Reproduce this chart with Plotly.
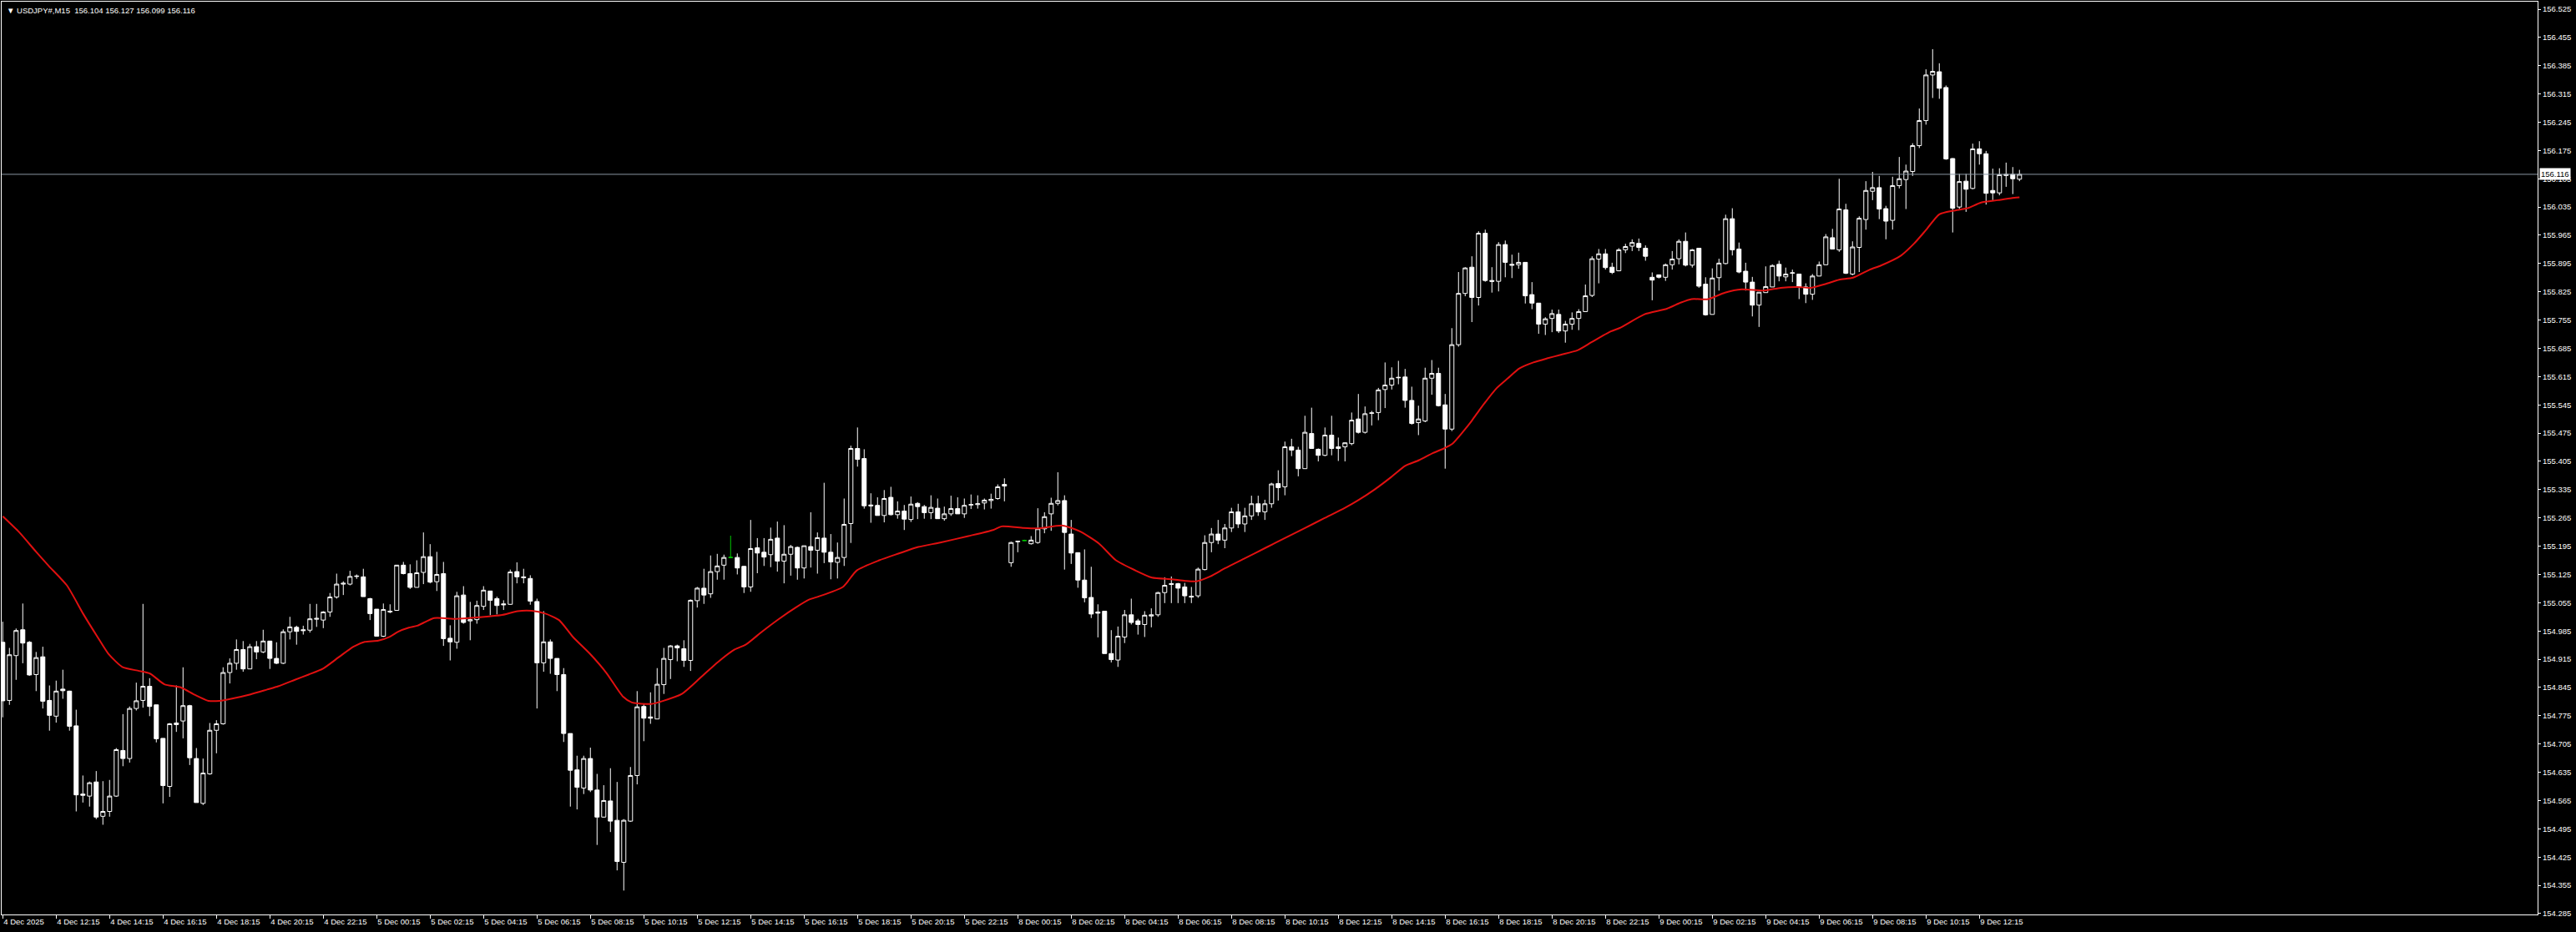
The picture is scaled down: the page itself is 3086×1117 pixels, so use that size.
import plotly.graph_objects as go

symbol_title = "USDJPY#,M15"

bar_open = [
    154.957, 154.813, 154.924, 154.988, 154.957, 154.877, 154.921, 154.813, 154.774, 154.841,
    154.836, 154.750, 154.581, 154.576, 154.611, 154.526, 154.538, 154.576, 154.689, 154.669,
    154.793, 154.813, 154.848, 154.802, 154.719, 154.600, 154.753, 154.762, 154.800, 154.669,
    154.558, 154.631, 154.739, 154.755, 154.882, 154.905, 154.939, 154.891, 154.946, 154.933,
    154.960, 154.917, 154.905, 154.983, 154.994, 154.988, 154.987, 155.014, 155.012, 155.032,
    155.069, 155.101, 155.101, 155.120, 155.119, 155.065, 155.039, 154.972, 155.032, 155.036,
    155.148, 155.127, 155.093, 155.130, 155.169, 155.107, 155.127, 154.967, 154.957, 155.074,
    155.010, 155.013, 155.046, 155.084, 155.065, 155.052, 155.051, 155.132, 155.119, 155.115,
    155.058, 154.906, 154.958, 154.917, 154.877, 154.731, 154.641, 154.596, 154.669, 154.591,
    154.524, 154.564, 154.516, 154.412, 154.514, 154.627, 154.798, 154.772, 154.767, 154.852,
    154.914, 154.948, 154.941, 154.912, 155.060, 155.091, 155.077, 155.132, 155.148, 155.167,
    155.167, 155.145, 155.094, 155.191, 155.180, 155.174, 155.215, 155.158, 155.175, 155.192,
    155.141, 155.194, 155.185, 155.215, 155.180, 155.155, 155.167, 155.251, 155.437, 155.412,
    155.297, 155.296, 155.271, 155.316, 155.273, 155.282, 155.261, 155.301, 155.293, 155.278,
    155.289, 155.263, 155.275, 155.288, 155.275, 155.297, 155.298, 155.302, 155.308, 155.313,
    155.344, 155.154, 155.206, 155.209, 155.201, 155.204, 155.238, 155.275, 155.301, 155.308,
    155.225, 155.179, 155.111, 155.068, 155.032, 155.034, 154.929, 154.913, 154.970, 155.025,
    155.010, 155.001, 155.022, 155.025, 155.080, 155.100, 155.102, 155.094, 155.071, 155.072,
    155.137, 155.204, 155.225, 155.210, 155.240, 155.280, 155.250, 155.270, 155.300, 155.280,
    155.300, 155.350, 155.342, 155.441, 155.433, 155.387, 155.474, 155.435, 155.420, 155.470,
    155.437, 155.441, 155.449, 155.510, 155.477, 155.524, 155.526, 155.583, 155.594, 155.612,
    155.614, 155.556, 155.501, 155.505, 155.611, 155.623, 155.545, 155.485, 155.694, 155.821,
    155.886, 155.811, 155.970, 155.853, 155.851, 155.942, 155.893, 155.892, 155.898, 155.818,
    155.797, 155.745, 155.759, 155.769, 155.728, 155.745, 155.759, 155.776, 155.816, 155.906,
    155.919, 155.886, 155.877, 155.929, 155.938, 155.945, 155.933, 155.861, 155.867, 155.861,
    155.892, 155.907, 155.950, 155.891, 155.933, 155.844, 155.769, 155.860, 155.895, 156.006,
    155.931, 155.876, 155.849, 155.792, 155.823, 155.837, 155.893, 155.862, 155.871, 155.869,
    155.837, 155.819, 155.864, 155.892, 155.959, 155.929, 156.028, 155.869, 155.935, 156.004,
    156.074, 156.083, 156.031, 156.002, 156.088, 156.103, 156.123, 156.187, 156.249, 156.362,
    156.370, 156.331, 156.155, 156.035, 156.099, 156.081, 156.179, 156.167, 156.076, 156.070,
    156.113, 156.116, 156.104,
]

bar_high = [
    155.008, 154.943, 154.991, 155.053, 154.960, 154.933, 154.946, 154.850, 154.862, 154.889,
    154.837, 154.790, 154.627, 154.612, 154.638, 154.613, 154.616, 154.695, 154.779, 154.798,
    154.857, 155.052, 154.868, 154.802, 154.719, 154.757, 154.850, 154.895, 154.802, 154.695,
    154.669, 154.757, 154.764, 154.895, 154.917, 154.964, 154.960, 154.953, 154.960, 154.988,
    154.960, 154.957, 154.989, 155.020, 154.998, 154.998, 155.052, 155.052, 155.034, 155.079,
    155.127, 155.108, 155.134, 155.125, 155.139, 155.067, 155.039, 155.053, 155.051, 155.148,
    155.156, 155.150, 155.160, 155.229, 155.200, 155.181, 155.156, 154.999, 155.082, 155.096,
    155.057, 155.060, 155.096, 155.084, 155.070, 155.061, 155.137, 155.155, 155.139, 155.123,
    155.065, 155.034, 154.964, 154.917, 154.893, 154.731, 154.676, 154.676, 154.696, 154.631,
    154.603, 154.645, 154.611, 154.519, 154.648, 154.836, 154.805, 154.833, 154.893, 154.943,
    154.950, 154.951, 154.962, 155.063, 155.094, 155.139, 155.172, 155.176, 155.174, 155.221,
    155.177, 155.146, 155.260, 155.215, 155.215, 155.241, 155.256, 155.247, 155.198, 155.194,
    155.196, 155.279, 155.229, 155.352, 155.225, 155.204, 155.313, 155.444, 155.489, 155.435,
    155.326, 155.316, 155.334, 155.342, 155.306, 155.297, 155.318, 155.304, 155.297, 155.321,
    155.313, 155.293, 155.320, 155.316, 155.313, 155.323, 155.321, 155.313, 155.325, 155.348,
    155.363, 155.206, 155.207, 155.211, 155.220, 155.289, 155.279, 155.315, 155.378, 155.321,
    155.260, 155.179, 155.187, 155.144, 155.051, 155.034, 154.987, 154.996, 155.037, 155.065,
    155.015, 155.034, 155.041, 155.082, 155.118, 155.120, 155.104, 155.104, 155.094, 155.142,
    155.222, 155.240, 155.260, 155.250, 155.290, 155.300, 155.290, 155.320, 155.320, 155.310,
    155.352, 155.383, 155.454, 155.461, 155.441, 155.518, 155.538, 155.437, 155.489, 155.518,
    155.464, 155.452, 155.526, 155.572, 155.541, 155.530, 155.587, 155.650, 155.638, 155.654,
    155.634, 155.590, 155.543, 155.637, 155.656, 155.637, 155.572, 155.735, 155.874, 155.886,
    155.913, 155.975, 155.979, 155.886, 155.948, 155.952, 155.917, 155.922, 155.898, 155.849,
    155.797, 155.762, 155.781, 155.781, 155.753, 155.774, 155.782, 155.843, 155.913, 155.931,
    155.931, 155.897, 155.933, 155.944, 155.955, 155.957, 155.940, 155.873, 155.868, 155.895,
    155.926, 155.955, 155.972, 155.931, 155.933, 155.861, 155.883, 155.907, 156.016, 156.032,
    155.947, 155.897, 155.862, 155.824, 155.888, 155.893, 155.902, 155.885, 155.880, 155.869,
    155.846, 155.869, 155.900, 155.968, 155.981, 156.105, 156.043, 155.950, 156.012, 156.099,
    156.122, 156.112, 156.038, 156.110, 156.159, 156.140, 156.193, 156.279, 156.376, 156.426,
    156.391, 156.336, 156.156, 156.117, 156.117, 156.192, 156.198, 156.174, 156.130, 156.131,
    156.145, 156.134, 156.127,
]

bar_low = [
    154.771, 154.802, 154.864, 154.905, 154.874, 154.836, 154.793, 154.738, 154.758, 154.817,
    154.738, 154.538, 154.560, 154.550, 154.519, 154.505, 154.525, 154.574, 154.650, 154.659,
    154.788, 154.795, 154.774, 154.709, 154.558, 154.574, 154.735, 154.719, 154.653, 154.560,
    154.554, 154.629, 154.682, 154.753, 154.855, 154.889, 154.884, 154.891, 154.915, 154.930,
    154.891, 154.903, 154.903, 154.964, 154.951, 154.976, 154.981, 154.995, 154.992, 155.020,
    155.065, 155.074, 155.098, 155.114, 155.070, 155.012, 154.972, 154.970, 155.029, 155.035,
    155.125, 155.089, 155.093, 155.101, 155.103, 155.084, 154.948, 154.912, 154.941, 155.003,
    154.962, 155.003, 155.037, 155.024, 155.026, 155.037, 155.050, 155.103, 155.103, 155.050,
    154.793, 154.884, 154.879, 154.836, 154.710, 154.550, 154.543, 154.581, 154.586, 154.455,
    154.523, 154.487, 154.392, 154.342, 154.512, 154.605, 154.712, 154.755, 154.767, 154.829,
    154.866, 154.910, 154.896, 154.886, 155.043, 155.052, 155.067, 155.112, 155.112, 155.165,
    155.125, 155.079, 155.082, 155.128, 155.146, 155.143, 155.132, 155.103, 155.122, 155.112,
    155.115, 155.142, 155.127, 155.153, 155.113, 155.115, 155.146, 155.203, 155.392, 155.288,
    155.253, 155.271, 155.254, 155.271, 155.263, 155.235, 155.255, 155.262, 155.263, 155.262,
    155.263, 155.258, 155.270, 155.275, 155.265, 155.287, 155.288, 155.286, 155.288, 155.310,
    155.306, 155.144, 155.180, 155.208, 155.199, 155.201, 155.227, 155.233, 155.296, 155.137,
    155.151, 155.092, 155.056, 155.017, 154.969, 154.929, 154.907, 154.896, 154.955, 155.001,
    154.976, 154.970, 154.994, 155.020, 155.054, 155.054, 155.054, 155.054, 155.054, 155.067,
    155.135, 155.180, 155.200, 155.190, 155.230, 155.240, 155.230, 155.260, 155.270, 155.260,
    155.290, 155.308, 155.321, 155.418, 155.368, 155.387, 155.437, 155.405, 155.418, 155.420,
    155.406, 155.405, 155.445, 155.474, 155.474, 155.494, 155.507, 155.537, 155.583, 155.596,
    155.538, 155.496, 155.470, 155.502, 155.570, 155.541, 155.387, 155.480, 155.689, 155.814,
    155.750, 155.791, 155.850, 155.823, 155.826, 155.861, 155.859, 155.882, 155.796, 155.782,
    155.721, 155.718, 155.725, 155.723, 155.699, 155.731, 155.730, 155.775, 155.812, 155.846,
    155.880, 155.869, 155.876, 155.921, 155.926, 155.926, 155.902, 155.804, 155.858, 155.852,
    155.880, 155.893, 155.888, 155.885, 155.835, 155.766, 155.769, 155.828, 155.893, 155.915,
    155.871, 155.828, 155.764, 155.738, 155.823, 155.837, 155.851, 155.851, 155.849, 155.807,
    155.797, 155.805, 155.864, 155.892, 155.931, 155.924, 155.869, 155.866, 155.874, 155.979,
    156.052, 156.005, 155.955, 155.979, 156.081, 156.030, 156.112, 156.181, 156.239, 156.305,
    156.303, 156.152, 155.972, 156.030, 156.023, 156.079, 156.140, 156.041, 156.052, 156.064,
    156.085, 156.067, 156.099,
]

bar_close = [
    154.812, 154.926, 154.986, 154.955, 154.876, 154.919, 154.811, 154.776, 154.836, 154.837,
    154.749, 154.579, 154.578, 154.609, 154.524, 154.538, 154.576, 154.691, 154.669, 154.793,
    154.812, 154.848, 154.798, 154.718, 154.602, 154.755, 154.757, 154.800, 154.671, 154.560,
    154.633, 154.739, 154.755, 154.882, 154.905, 154.939, 154.891, 154.946, 154.933, 154.960,
    154.917, 154.905, 154.983, 154.995, 154.984, 154.986, 155.015, 155.016, 155.032, 155.069,
    155.101, 155.103, 155.120, 155.121, 155.070, 155.028, 154.972, 155.038, 155.034, 155.148,
    155.127, 155.093, 155.129, 155.169, 155.106, 155.125, 154.966, 154.958, 155.072, 155.006,
    155.013, 155.048, 155.086, 155.061, 155.048, 155.050, 155.131, 155.119, 155.117, 155.059,
    154.906, 154.958, 154.917, 154.877, 154.731, 154.640, 154.598, 154.669, 154.591, 154.524,
    154.565, 154.514, 154.414, 154.516, 154.627, 154.797, 154.769, 154.769, 154.853, 154.917,
    154.948, 154.943, 154.912, 155.061, 155.091, 155.074, 155.132, 155.146, 155.167, 155.167,
    155.141, 155.094, 155.189, 155.178, 155.168, 155.212, 155.158, 155.175, 155.194, 155.141,
    155.196, 155.185, 155.216, 155.180, 155.156, 155.167, 155.249, 155.437, 155.410, 155.295,
    155.295, 155.271, 155.313, 155.273, 155.282, 155.262, 155.299, 155.293, 155.278, 155.291,
    155.263, 155.275, 155.288, 155.275, 155.296, 155.298, 155.300, 155.309, 155.311, 155.342,
    155.348, 155.204, 155.207, 155.209, 155.210, 155.238, 155.268, 155.301, 155.308, 155.229,
    155.178, 155.111, 155.067, 155.027, 155.029, 154.929, 154.914, 154.972, 155.025, 155.006,
    155.001, 155.024, 155.025, 155.080, 155.098, 155.102, 155.091, 155.072, 155.069, 155.138,
    155.204, 155.225, 155.210, 155.240, 155.280, 155.250, 155.270, 155.300, 155.280, 155.300,
    155.349, 155.340, 155.441, 155.433, 155.387, 155.477, 155.437, 155.420, 155.470, 155.437,
    155.441, 155.451, 155.507, 155.477, 155.523, 155.525, 155.582, 155.594, 155.611, 155.613,
    155.556, 155.499, 155.510, 155.611, 155.623, 155.543, 155.485, 155.694, 155.821, 155.884,
    155.811, 155.970, 155.853, 155.851, 155.942, 155.898, 155.891, 155.898, 155.815, 155.797,
    155.745, 155.758, 155.771, 155.728, 155.745, 155.759, 155.776, 155.815, 155.907, 155.919,
    155.885, 155.873, 155.929, 155.937, 155.947, 155.935, 155.913, 155.854, 155.861, 155.892,
    155.906, 155.950, 155.891, 155.929, 155.839, 155.768, 155.859, 155.896, 156.006, 155.929,
    155.874, 155.849, 155.792, 155.824, 155.838, 155.890, 155.864, 155.869, 155.872, 155.837,
    155.819, 155.864, 155.892, 155.961, 155.931, 156.030, 155.871, 155.936, 156.007, 156.076,
    156.083, 156.030, 156.000, 156.088, 156.105, 156.124, 156.187, 156.249, 156.362, 156.371,
    156.329, 156.154, 156.032, 156.098, 156.079, 156.179, 156.167, 156.069, 156.070, 156.115,
    156.116, 156.105, 156.116,
]

# moving average (read at bar positions)
ma_bar = [0, 2.5, 5, 6.9, 9.6, 12.1, 14.2, 15.8, 17.9, 20.4, 22.1, 24.2, 26.7, 28.75, 30.8, 32.5,
          34.2, 37.1, 39.6, 41.25, 43.75, 45.8, 47.9, 50.4, 52.5, 54.2, 56.25, 57.9, 59.2, 60.8,
          62.1, 64.6, 67.9, 71.25, 74.6, 77.1, 79.2, 81.25, 83.3, 85.4, 87.9, 90.4, 92.9, 94.2,
          97.1, 98.75, 101.7, 104.6, 107.1, 109.6, 111.25, 113.75, 116.25, 118.75, 120.8, 122.1,
          125.8, 127.9, 131.25, 134.2, 137.1, 140.4, 144.6, 148.3, 149.6, 152.9, 155, 158.75,
          161.25, 164.2, 166.7, 169.6, 172.1, 175, 177.1, 178.75, 180.8, 183, 186, 189, 192, 195,
          198, 201, 202.9, 205.4, 207.9, 210, 212.1, 214.2, 215.8, 217.1, 218.75, 220, 221.25,
          223.75, 225.4, 227.1, 229.2, 231.25, 233.3, 235.8, 237.9, 240.8, 242.1, 245.8, 249.2,
          251.25, 252.9, 255.4, 257.9, 260.4, 263.75, 266.25, 268.75, 270.8, 272.9, 275, 277.1,
          279.6, 281.25, 284.2, 286.25, 287.9, 290, 292.1, 294.2, 296.25, 298.75, 300.8, 302]
ma_value = [155.269, 155.229, 155.181, 155.146, 155.098, 155.026, 154.970, 154.929, 154.896, 154.886,
            154.879, 154.853, 154.845, 154.827, 154.812, 154.812, 154.817, 154.828, 154.840, 154.848,
            154.864, 154.877, 154.891, 154.921, 154.946, 154.958, 154.961, 154.970, 154.983, 154.993,
            154.998, 155.017, 155.015, 155.019, 155.024, 155.034, 155.035, 155.028, 155.012, 154.970,
            154.929, 154.881, 154.822, 154.808, 154.804, 154.811, 154.829, 154.871, 154.908, 154.939,
            154.951, 154.984, 155.015, 155.043, 155.063, 155.070, 155.094, 155.135, 155.160, 155.177,
            155.193, 155.204, 155.220, 155.235, 155.244, 155.240, 155.239, 155.246, 155.232, 155.201,
            155.160, 155.135, 155.117, 155.113, 155.109, 155.108, 155.120, 155.140, 155.165, 155.190,
            155.215, 155.240, 155.265, 155.290, 155.308, 155.335, 155.366, 155.394, 155.408, 155.426,
            155.437, 155.449, 155.480, 155.506, 155.535, 155.587, 155.611, 155.635, 155.650, 155.660,
            155.669, 155.680, 155.700, 155.727, 155.735, 155.769, 155.783, 155.798, 155.807, 155.807,
            155.823, 155.831, 155.828, 155.835, 155.837, 155.835, 155.844, 155.855, 155.860, 155.880,
            155.890, 155.914, 155.945, 155.976, 156.017, 156.026, 156.032, 156.046, 156.052, 156.057,
            156.059]

x_tick_labels = ["4 Dec 2025", "4 Dec 12:15", "4 Dec 14:15", "4 Dec 16:15", "4 Dec 18:15", "4 Dec 20:15",
                 "4 Dec 22:15", "5 Dec 00:15", "5 Dec 02:15", "5 Dec 04:15", "5 Dec 06:15", "5 Dec 08:15",
                 "5 Dec 10:15", "5 Dec 12:15", "5 Dec 14:15", "5 Dec 16:15", "5 Dec 18:15", "5 Dec 20:15",
                 "5 Dec 22:15", "8 Dec 00:15", "8 Dec 02:15", "8 Dec 04:15", "8 Dec 06:15", "8 Dec 08:15",
                 "8 Dec 10:15", "8 Dec 12:15", "8 Dec 14:15", "8 Dec 16:15", "8 Dec 18:15", "8 Dec 20:15",
                 "8 Dec 22:15", "9 Dec 00:15", "9 Dec 02:15", "9 Dec 04:15", "9 Dec 06:15", "9 Dec 08:15",
                 "9 Dec 10:15", "9 Dec 12:15"]
x_tick_bars = [8 * k for k in range(len(x_tick_labels))]

y_tick_labels = ["154.285", "154.355", "154.425", "154.495", "154.565", "154.635", "154.705", "154.775",
                 "154.845", "154.915", "154.985", "155.055", "155.125", "155.195", "155.265", "155.335",
                 "155.405", "155.475", "155.545", "155.615", "155.685", "155.755", "155.825", "155.895",
                 "155.965", "156.035", "156.105", "156.175", "156.245", "156.315", "156.385", "156.455",
                 "156.525"]
y_tick_vals = [float(s) for s in y_tick_labels]

n = len(bar_close)
bars = list(range(n))
reg = [i for i in bars if bar_open[i] != bar_close[i]]
doji = [i for i in bars if bar_open[i] == bar_close[i]]

FONT = "Liberation Sans, Arial, sans-serif"

fig = go.Figure()
fig.add_trace(go.Candlestick(
    x=[bars[i] for i in reg],
    open=[bar_open[i] for i in reg], high=[bar_high[i] for i in reg],
    low=[bar_low[i] for i in reg], close=[bar_close[i] for i in reg],
    increasing=dict(line=dict(color="#ffffff", width=1), fillcolor="#000000"),
    decreasing=dict(line=dict(color="#ffffff", width=1), fillcolor="#ffffff"),
    whiskerwidth=0, showlegend=False, hoverinfo="skip",
))
fig.add_trace(go.Candlestick(
    x=[bars[i] for i in doji],
    open=[bar_open[i] for i in doji], high=[bar_high[i] for i in doji],
    low=[bar_low[i] for i in doji], close=[bar_close[i] for i in doji],
    increasing=dict(line=dict(color="#00c800", width=1), fillcolor="#00c800"),
    decreasing=dict(line=dict(color="#00c800", width=1), fillcolor="#00c800"),
    whiskerwidth=0, showlegend=False, hoverinfo="skip",
))
fig.add_trace(go.Scatter(
    x=ma_bar, y=ma_value, mode="lines",
    line=dict(color="#e01010", width=2, shape="spline", smoothing=0.6),
    showlegend=False, hoverinfo="skip",
))

last_close = bar_close[-1]
fig.add_shape(type="line", xref="paper", x0=0, x1=1, yref="y", y0=last_close, y1=last_close,
              line=dict(color="#8a96a3", width=1), layer="above")

fig.add_annotation(
    xref="paper", yref="y", x=1, y=last_close, xanchor="left", yanchor="middle",
    text=f"{last_close:.3f}", showarrow=False, xshift=2,
    font=dict(family=FONT, size=9.5, color="#000000"),
    bgcolor="#ffffff", borderpad=1,
)

title_text = (f"\u25BC {symbol_title}\u00a0\u00a0{bar_open[-1]:.3f} {bar_high[-1]:.3f} "
              f"{bar_low[-1]:.3f} {bar_close[-1]:.3f}")
fig.add_annotation(
    xref="paper", yref="paper", x=0, y=1, xanchor="left", yanchor="top",
    text=title_text, showarrow=False, xshift=4, yshift=-3,
    font=dict(family=FONT, size=9.5, color="#ffffff"),
)

fig.update_layout(
    width=3086, height=1117,
    margin=dict(l=2, r=46, t=2, b=21),
    paper_bgcolor="#000000", plot_bgcolor="#000000",
    boxgap=0.375, boxgroupgap=0,
    font=dict(family=FONT, size=9.5, color="#ffffff"),
    xaxis=dict(
        range=[-0.16, 379.59], rangeslider=dict(visible=False),
        tickmode="array", tickvals=x_tick_bars, ticktext=x_tick_labels,
        ticks="outside", ticklen=4, tickcolor="#ffffff", tickwidth=1,
        ticklabelposition="outside right",
        showgrid=False, zeroline=False, showline=True, mirror=True,
        linecolor="#ffffff", linewidth=1,
        tickfont=dict(family=FONT, size=9.5, color="#ffffff"),
    ),
    yaxis=dict(
        side="right", range=[154.2828, 156.5436],
        tickmode="array", tickvals=y_tick_vals, ticktext=y_tick_labels,
        ticks="outside", ticklen=3, tickcolor="#ffffff", tickwidth=1,
        showgrid=False, zeroline=False, showline=True, mirror=True,
        linecolor="#ffffff", linewidth=1,
        tickfont=dict(family=FONT, size=9.5, color="#ffffff"),
    ),
)

fig.write_html("out.html")
